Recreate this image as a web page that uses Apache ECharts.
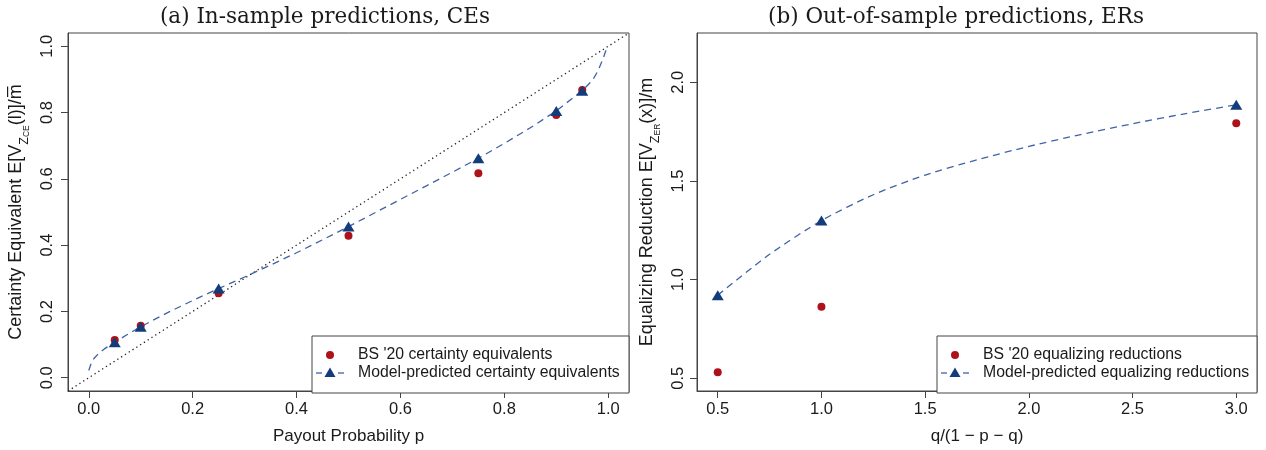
<!DOCTYPE html>
<html>
<head>
<meta charset="utf-8">
<script src="https://cdn.jsdelivr.net/npm/echarts@6/dist/echarts.min.js"></script>
<style>
html,body{margin:0;padding:0;background:#fff;}
#chart{width:1266px;height:450px;}
</style>
</head>
<body>
<div id="chart"></div>
<script>
// ---------- Panel (a): in-sample certainty equivalents ----------
const ceP          = [0.05, 0.10, 0.25, 0.50, 0.75, 0.90, 0.95];
const ceObserved   = [0.114, 0.157, 0.255, 0.428, 0.617, 0.793, 0.868];
const cePredicted  = [0.107, 0.154, 0.269, 0.456, 0.662, 0.805, 0.866];
const ceCurveP     = [0, 0.005, 0.01, 0.02, 0.03, 0.05, 0.075, 0.10, 0.15, 0.20, 0.25, 0.30, 0.35, 0.40, 0.45, 0.50, 0.55, 0.60, 0.65, 0.70, 0.75, 0.80, 0.85, 0.90, 0.95, 0.97, 0.98, 0.99, 0.995, 1.0];
const ceCurveV     = [0.022, 0.045, 0.058, 0.075, 0.087, 0.107, 0.131, 0.154, 0.195, 0.233, 0.269, 0.304, 0.340, 0.377, 0.416, 0.456, 0.497, 0.538, 0.579, 0.620, 0.662, 0.707, 0.754, 0.805, 0.866, 0.898, 0.925, 0.962, 0.985, 1.0];
const diagonal     = [-0.04, 1.04];
const ceXTicks     = [0, 0.2, 0.4, 0.6, 0.8, 1.0];
const ceYTicks     = [0, 0.2, 0.4, 0.6, 0.8, 1.0];

// ---------- Panel (b): out-of-sample equalizing reductions ----------
const erX          = [0.5, 1.0, 3.0];
const erObserved   = [0.530, 0.862, 1.792];
const erPredicted  = [0.921, 1.299, 1.886];
const erCurveX     = [0.5, 0.75, 1.0, 1.25, 1.5, 1.75, 2.0, 2.25, 2.5, 2.75, 3.0];
const erCurveV     = [0.921, 1.128, 1.299, 1.430, 1.530, 1.607, 1.675, 1.735, 1.790, 1.840, 1.886];
const erXTicks     = [0.5, 1.0, 1.5, 2.0, 2.5, 3.0];
const erYTicks     = [0.5, 1.0, 1.5, 2.0];

const titles = ['(a) In-sample predictions, CEs', '(b) Out-of-sample predictions, ERs'];
const legendA = ["BS '20 certainty equivalents", 'Model-predicted certainty equivalents'];
const legendB = ["BS '20 equalizing reductions", 'Model-predicted equalizing reductions'];

const RED = '#ad1119', NAVY = '#133c7c', DASH = '#3f63a3', BOX = '#444', TXT = '#1a1a1a';
const SANS = '"Liberation Sans", Arial, sans-serif';
const SERIF = '"DejaVu Serif", serif';

const pairs = (xs, ys) => xs.map((x, i) => [x, ys[i]]);

const G = [
  {left: 68,  top: 33, width: 561, height: 360},
  {left: 697, top: 33, width: 560, height: 360}
];

function xAxis(gi, min, max, ticks, name, gap) {
  return {
    type: 'value', gridIndex: gi, min: min, max: max,
    name: name, nameLocation: 'middle', nameGap: gap,
    nameTextStyle: {fontFamily: SANS, fontSize: 17, color: TXT},
    axisLine: {show: true, onZero: false, lineStyle: {color: BOX, width: 1}},
    axisTick: {show: true, inside: false, length: 7, customValues: ticks, lineStyle: {color: BOX, width: 1}},
    axisLabel: {customValues: ticks, formatter: v => v.toFixed(1), fontFamily: SANS, fontSize: 16.5, color: TXT, margin: 10},
    splitLine: {show: false}
  };
}
function yAxis(gi, min, max, ticks, name, gap, rich, margin) {
  return {
    type: 'value', gridIndex: gi, min: min, max: max,
    name: name, nameLocation: 'middle', nameGap: gap, nameRotate: 90,
    nameTextStyle: {fontFamily: SANS, fontSize: 18, color: TXT, rich: rich},
    axisLine: {show: true, onZero: false, lineStyle: {color: BOX, width: 1}},
    axisTick: {show: true, inside: false, length: 7, customValues: ticks, lineStyle: {color: BOX, width: 1}},
    axisLabel: {customValues: ticks, formatter: v => v.toFixed(1), rotate: 90, fontFamily: SANS, fontSize: 16.5, color: TXT, margin: margin},
    splitLine: {show: false}
  };
}

const rich = {
  a:  {fontFamily: SANS, fontSize: 18, color: TXT, lineHeight: 29},
  s:  {fontFamily: SANS, fontSize: 12.5, color: TXT, lineHeight: 15, verticalAlign: 'bottom'},
  ss: {fontFamily: SANS, fontSize: 8.5,  color: TXT, lineHeight: 9,  verticalAlign: 'bottom'}
};

function legendGraphic(gi, texts) {
  const g = G[gi];
  const right = g.left + g.width;
  const w = gi === 0 ? 317 : 320;
  const x0 = right - w, y0 = 336, h = 393 - 336;
  return [
    {type: 'rect', shape: {x: x0, y: y0, width: w, height: h}, style: {fill: '#fff', stroke: BOX, lineWidth: 1}, z: 100},
    {type: 'circle', shape: {cx: x0 + 18, cy: 355, r: 4}, style: {fill: RED}, z: 101},
    {type: 'line', shape: {x1: x0 + 4, y1: 373, x2: x0 + 10, y2: 373}, style: {stroke: DASH, lineWidth: 1.3}, z: 101},
    {type: 'line', shape: {x1: x0 + 26, y1: 373, x2: x0 + 32, y2: 373}, style: {stroke: DASH, lineWidth: 1.3}, z: 101},
    {type: 'polygon', shape: {points: [[x0 + 18, 367.5], [x0 + 23.5, 377], [x0 + 12.5, 377]]}, style: {fill: NAVY}, z: 101},
    {type: 'text', style: {x: x0 + 46, y: 355, text: texts[0], fontFamily: SANS, fontSize: 15.8, fill: TXT, verticalAlign: 'middle'}, z: 101},
    {type: 'text', style: {x: x0 + 46, y: 373, text: texts[1], fontFamily: SANS, fontSize: 15.8, fill: TXT, verticalAlign: 'middle'}, z: 101}
  ];
}

const chart = echarts.init(document.getElementById('chart'), null, {renderer: 'canvas'});
chart.setOption({
  animation: false,
  backgroundColor: '#fff',
  title: [
    {text: titles[0], left: 320, top: 1, textAlign: 'center', textStyle: {fontFamily: SERIF, fontSize: 21.5, fontWeight: 'normal', color: TXT}},
    {text: titles[1], left: 951, top: 1, textAlign: 'center', textStyle: {fontFamily: SERIF, fontSize: 21.5, fontWeight: 'normal', color: TXT}}
  ],
  grid: G.map(g => Object.assign({show: true, borderColor: BOX, borderWidth: 1, backgroundColor: 'transparent'}, g)),
  xAxis: [
    xAxis(0, -0.04, 1.04, ceXTicks, 'Payout Probability p', 37),
    xAxis(1, 0.4, 3.1, erXTicks, 'q/(1 \u2212 p \u2212 q)', 37)
  ],
  yAxis: [
    yAxis(0, -0.04, 1.04, ceYTicks, '{a|Certainty Equivalent E[V}{s|Z}{ss|CE}{a|(l)]/m\u0305}', 37, rich, 12),
    yAxis(1, 0.435, 2.25, erYTicks, '{a|Equalizing Reduction E[V}{s|Z}{ss|ER}{a|(x)]/m}', 35, rich, 10)
  ],
  series: [
    {type: 'line', xAxisIndex: 0, yAxisIndex: 0, data: [[diagonal[0], diagonal[0]], [diagonal[1], diagonal[1]]], symbol: 'none',
     lineStyle: {color: '#222', width: 1.3, type: [1.3, 3.2]}, clip: true, z: 1},
    {type: 'line', xAxisIndex: 0, yAxisIndex: 0, data: pairs(ceCurveP, ceCurveV), symbol: 'none', smooth: false,
     lineStyle: {color: DASH, width: 1.3, type: [7, 5]}, z: 2},
    {type: 'scatter', xAxisIndex: 0, yAxisIndex: 0, data: pairs(ceP, ceObserved), symbol: 'circle', symbolSize: 8,
     itemStyle: {color: RED, opacity: 1}, z: 3},
    {type: 'scatter', xAxisIndex: 0, yAxisIndex: 0, data: pairs(ceP, cePredicted), symbol: 'triangle', symbolSize: [12, 10],
     itemStyle: {color: NAVY, opacity: 1}, z: 4},
    {type: 'line', xAxisIndex: 1, yAxisIndex: 1, data: pairs(erCurveX, erCurveV), symbol: 'none', smooth: 0.25,
     lineStyle: {color: DASH, width: 1.3, type: [7, 5]}, z: 2},
    {type: 'scatter', xAxisIndex: 1, yAxisIndex: 1, data: pairs(erX, erObserved), symbol: 'circle', symbolSize: 8,
     itemStyle: {color: RED, opacity: 1}, z: 3},
    {type: 'scatter', xAxisIndex: 1, yAxisIndex: 1, data: pairs(erX, erPredicted), symbol: 'triangle', symbolSize: [12, 10],
     itemStyle: {color: NAVY, opacity: 1}, z: 4}
  ],
  graphic: legendGraphic(0, legendA).concat(legendGraphic(1, legendB))
});
</script>
</body>
</html>
